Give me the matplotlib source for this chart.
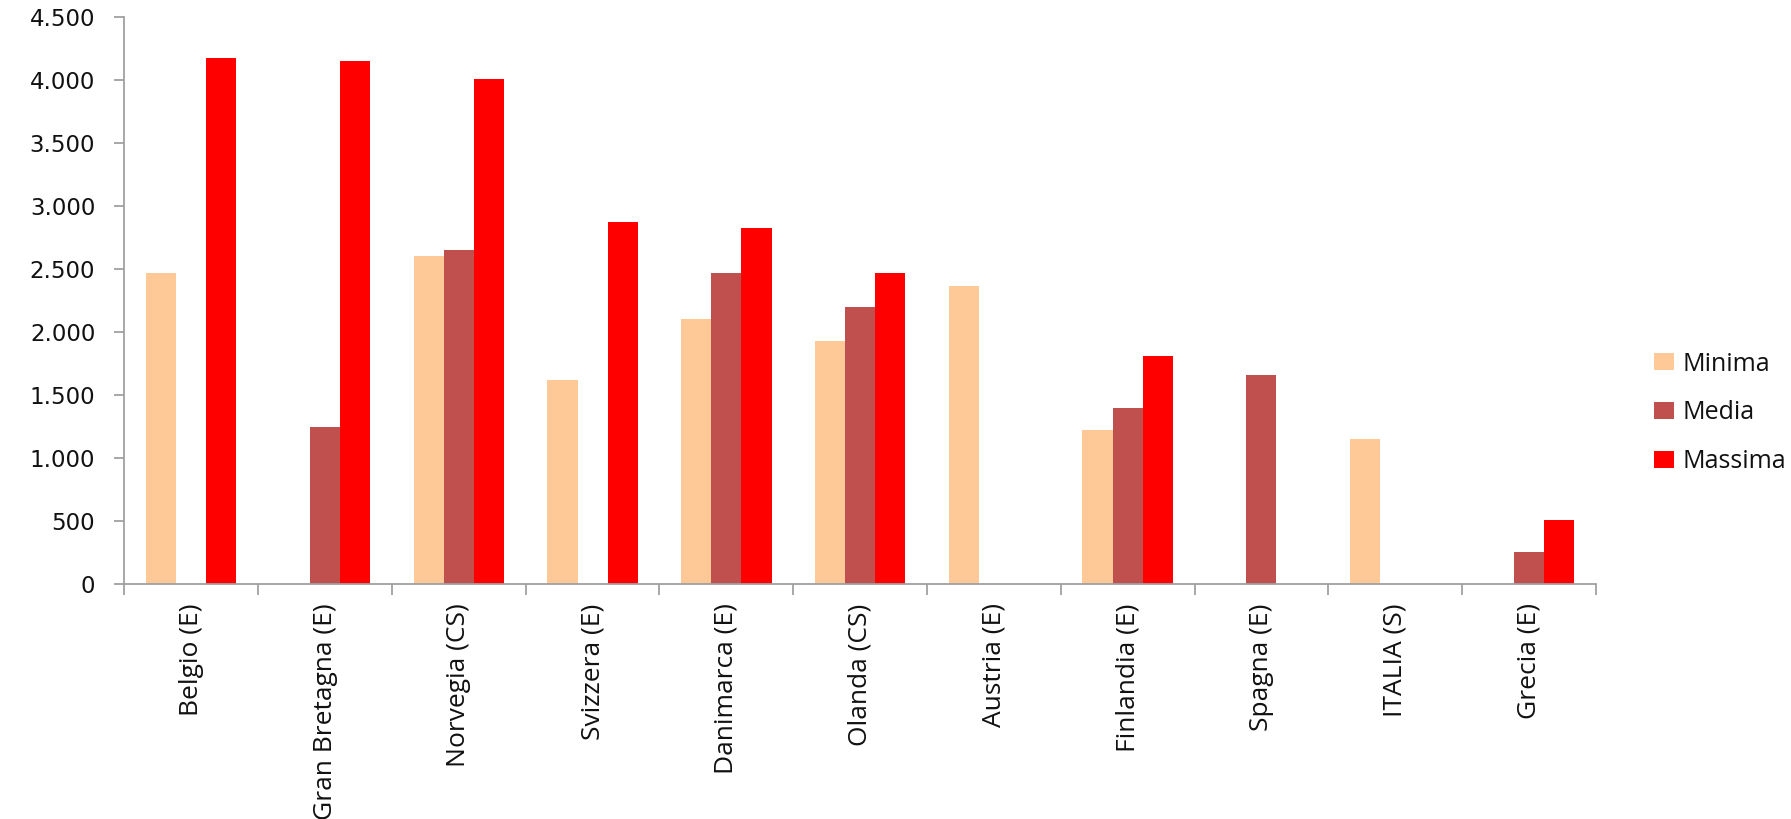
import numpy as np
import matplotlib
matplotlib.use("Agg")
import matplotlib.pyplot as plt
from matplotlib.ticker import FuncFormatter

paesi = ["Belgio (E)", "Gran Bretagna (E)", "Norvegia (CS)", "Svizzera (E)",
         "Danimarca (E)", "Olanda (CS)", "Austria (E)", "Finlandia (E)",
         "Spagna (E)", "ITALIA (S)", "Grecia (E)"]
minima = [2470, 0, 2600, 1620, 2100, 1930, 2365, 1225, 0, 1150, 0]
media = [0, 1250, 2650, 0, 2470, 2200, 0, 1400, 1658, 0, 256]
massima = [4180, 4155, 4007, 2870, 2830, 2470, 0, 1810, 0, 0, 509]

serie = ["Minima", "Media", "Massima"]
colori = ["#FFC997", "#C0504D", "#FF0000"]

fig = plt.figure(figsize=(17.91, 8.19), dpi=100)
ax = fig.add_axes([0.0695, 0.287, 0.8215, 0.692])

x = np.arange(len(paesi))
w = 0.225
for k, (vals, nome, col) in enumerate(zip([minima, media, massima], serie, colori)):
    ax.bar(x + (k - 1) * w, vals, width=w, color=col, label=nome, linewidth=0)

ax.set_xlim(-0.5, len(paesi) - 0.5)
ax.set_ylim(0, 4500)
ax.set_yticks(np.arange(0, 4501, 500))
ax.yaxis.set_major_formatter(FuncFormatter(lambda v, p: f"{v:,.0f}".replace(",", ".")))

# tacche tra le categorie, etichette al centro
ax.set_xticks(np.arange(-0.5, len(paesi)), minor=False)
ax.set_xticklabels([])
ax.set_xticks(x, minor=True)
ax.set_xticklabels(paesi, minor=True, rotation=90, ha="center", va="top",
                   fontsize=19, family="Open Sans", color="#111111")
ax.tick_params(axis="x", which="minor", length=0, pad=14)
ax.tick_params(axis="x", which="major", length=8, width=1.3, color="#A0A0A0")
ax.tick_params(axis="y", length=7, width=1.3, color="#A0A0A0", pad=14,
               labelsize=16.5, labelcolor="#111111")

for s in ["top", "right"]:
    ax.spines[s].set_visible(False)
for s in ["left", "bottom"]:
    ax.spines[s].set_color("#A0A0A0")
    ax.spines[s].set_linewidth(1.3)

leg = fig.legend(loc="center left", bbox_to_anchor=(0.911, 0.496), frameon=False,
                 prop={"family": "Open Sans", "size": 18}, handlelength=0.8,
                 handleheight=0.65, handletextpad=0.32, labelspacing=0.95)
for t in leg.get_texts():
    t.set_color("#111111")

fig.savefig("out.png", dpi=100)
